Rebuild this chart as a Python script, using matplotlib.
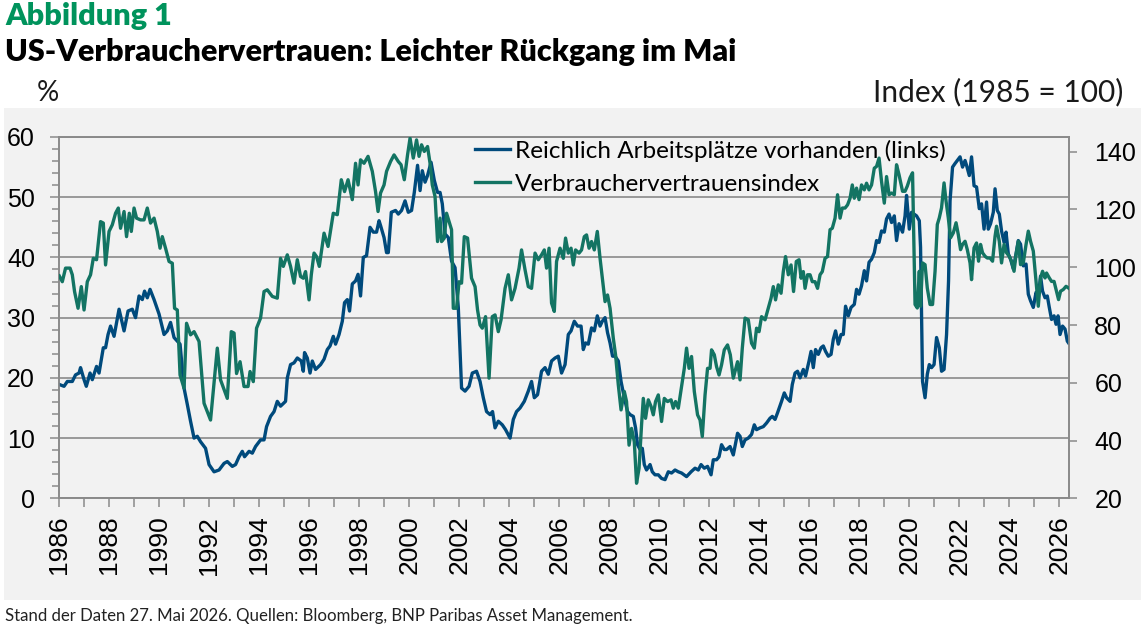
import matplotlib
matplotlib.use("Agg")
import matplotlib.pyplot as plt
from matplotlib.patches import Rectangle
from matplotlib.ticker import MultipleLocator, FixedLocator
import numpy as np

# ---------------- data ----------------
jobs_years = [
    1986.00, 1986.19, 1986.32, 1986.52, 1986.65, 1986.79, 1986.85, 1986.99, 1987.08, 1987.23,
    1987.32, 1987.49, 1987.59, 1987.76, 1987.85, 1987.95, 1988.05, 1988.19, 1988.39, 1988.59,
    1988.75, 1988.92, 1989.05, 1989.19, 1989.32, 1989.41, 1989.52, 1989.63, 1989.79, 1989.99,
    1990.19, 1990.32, 1990.45, 1990.59, 1990.83, 1990.99, 1991.12, 1991.25, 1991.39, 1991.52,
    1991.65, 1991.85, 1991.99, 1992.19, 1992.39, 1992.59, 1992.72, 1992.92, 1993.05, 1993.19,
    1993.32, 1993.41, 1993.59, 1993.72, 1993.85, 1994.05, 1994.19, 1994.29, 1994.45, 1994.59,
    1994.72, 1994.85, 1995.05, 1995.12, 1995.25, 1995.39, 1995.52, 1995.68, 1995.76, 1995.81,
    1995.92, 1996.03, 1996.12, 1996.25, 1996.45, 1996.59, 1996.72, 1996.83, 1996.96, 1997.05,
    1997.19, 1997.32, 1997.41, 1997.52, 1997.61, 1997.72, 1997.85, 1997.95, 1998.05, 1998.16,
    1998.29, 1998.43, 1998.56, 1998.69, 1998.79, 1998.85, 1998.99, 1999.09, 1999.16, 1999.28,
    1999.45, 1999.56, 1999.69, 1999.83, 1999.96, 2000.09, 2000.20, 2000.33, 2000.43, 2000.52,
    2000.63, 2000.73, 2000.87, 2001.00, 2001.13, 2001.23, 2001.32, 2001.43, 2001.56, 2001.69,
    2001.83, 2001.96, 2002.09, 2002.23, 2002.39, 2002.52, 2002.69, 2002.83, 2002.96, 2003.09,
    2003.23, 2003.33, 2003.43, 2003.56, 2003.72, 2003.85, 2004.03, 2004.16, 2004.29, 2004.43,
    2004.60, 2004.76, 2004.89, 2005.00, 2005.13, 2005.29, 2005.43, 2005.56, 2005.69, 2005.83,
    2005.96, 2006.09, 2006.23, 2006.36, 2006.47, 2006.60, 2006.73, 2006.87, 2006.96, 2007.05,
    2007.16, 2007.29, 2007.40, 2007.52, 2007.63, 2007.72, 2007.83, 2007.93, 2008.03, 2008.13,
    2008.23, 2008.36, 2008.47, 2008.60, 2008.73, 2008.83, 2008.96, 2009.05, 2009.13, 2009.23,
    2009.32, 2009.40, 2009.49, 2009.63, 2009.72, 2009.83, 2009.96, 2010.09, 2010.23, 2010.36,
    2010.49, 2010.63, 2010.76, 2010.89, 2011.09, 2011.27, 2011.43, 2011.56, 2011.67, 2011.80,
    2011.93, 2012.07, 2012.16, 2012.29, 2012.39, 2012.49, 2012.60, 2012.69, 2012.83, 2012.96,
    2013.13, 2013.23, 2013.32, 2013.43, 2013.56, 2013.69, 2013.80, 2013.89, 2014.03, 2014.16,
    2014.29, 2014.43, 2014.52, 2014.63, 2014.73, 2014.89, 2015.00, 2015.09, 2015.23, 2015.32,
    2015.43, 2015.53, 2015.63, 2015.76, 2015.85, 2015.99, 2016.07, 2016.16, 2016.25, 2016.36,
    2016.47, 2016.56, 2016.65, 2016.76, 2016.87, 2016.96, 2017.05, 2017.16, 2017.27, 2017.36,
    2017.45, 2017.56, 2017.67, 2017.80, 2017.89, 2017.99, 2018.09, 2018.20, 2018.29, 2018.39,
    2018.49, 2018.60, 2018.69, 2018.79, 2018.89, 2019.00, 2019.09, 2019.19, 2019.29, 2019.40,
    2019.49, 2019.59, 2019.73, 2019.83, 2019.89, 2020.00, 2020.09, 2020.19, 2020.29, 2020.40,
    2020.45, 2020.53, 2020.63, 2020.72, 2020.80, 2020.89, 2020.99, 2021.09, 2021.20, 2021.29,
    2021.39, 2021.49, 2021.57, 2021.63, 2021.73, 2021.83, 2021.92, 2022.03, 2022.13, 2022.23,
    2022.29, 2022.40, 2022.49, 2022.59, 2022.69, 2022.80, 2022.89, 2022.99, 2023.09, 2023.16,
    2023.25, 2023.36, 2023.43, 2023.52, 2023.60, 2023.69, 2023.79, 2023.87, 2023.96, 2024.05,
    2024.16, 2024.27, 2024.36, 2024.45, 2024.56, 2024.67, 2024.76, 2024.85, 2024.96, 2025.07,
    2025.16, 2025.25, 2025.33, 2025.43, 2025.52, 2025.60, 2025.69, 2025.79, 2025.87, 2025.95,
    2026.03, 2026.13, 2026.23, 2026.32, 2026.37,
]
jobs_plentiful = [
    18.9, 18.6, 19.4, 19.4, 20.5, 20.8, 21.7, 19.7, 18.6, 20.8,
    19.7, 21.9, 20.8, 25.0, 25.0, 27.2, 28.6, 26.9, 31.4, 27.8,
    31.1, 31.4, 30.0, 33.6, 33.0, 34.4, 33.3, 34.7, 33.0, 30.6,
    27.2, 27.8, 29.2, 26.7, 25.6, 18.3, 15.6, 12.8, 10.0, 10.3,
    9.4, 8.3, 5.6, 4.4, 4.7, 5.8, 6.1, 5.3, 5.6, 6.9,
    7.8, 6.9, 7.8, 7.5, 8.6, 9.7, 9.7, 11.9, 13.6, 14.4,
    16.1, 15.3, 16.1, 20.0, 22.2, 22.5, 23.3, 22.8, 21.1, 24.2,
    23.3, 20.8, 22.8, 21.4, 22.2, 23.1, 24.7, 25.3, 26.9, 25.6,
    27.2, 29.4, 32.5, 33.0, 31.1, 35.6, 36.1, 37.2, 33.6, 40.0,
    40.3, 45.0, 44.2, 44.2, 46.1, 45.3, 43.3, 40.8, 40.8, 47.5,
    47.8, 47.2, 47.8, 49.4, 47.5, 47.8, 50.8, 55.3, 51.1, 54.4,
    52.5, 53.6, 55.8, 52.8, 50.8, 50.8, 48.9, 43.9, 43.3, 39.4,
    38.3, 31.7, 18.3, 17.8, 18.6, 20.8, 21.1, 19.4, 16.7, 14.4,
    13.9, 14.4, 11.7, 12.8, 12.2, 11.4, 10.0, 13.1, 14.4, 15.0,
    16.1, 17.8, 19.4, 16.7, 17.2, 21.1, 21.7, 20.6, 22.8, 23.3,
    23.6, 20.8, 22.2, 27.2, 27.8, 29.4, 28.6, 28.6, 24.7, 25.8,
    25.6, 28.3, 27.8, 30.3, 28.6, 29.4, 30.0, 27.5, 25.8, 23.6,
    23.6, 22.8, 19.4, 16.7, 14.4, 13.9, 13.6, 11.7, 8.9, 8.1,
    8.3, 5.6, 4.7, 5.6, 4.4, 3.9, 3.9, 3.3, 3.1, 4.4,
    4.2, 4.7, 4.4, 4.2, 3.6, 4.4, 5.0, 4.7, 5.6, 5.0,
    5.3, 3.9, 6.4, 6.4, 6.9, 8.9, 8.1, 8.1, 8.6, 7.2,
    10.8, 10.3, 8.6, 9.7, 10.0, 10.6, 12.2, 11.4, 11.7, 11.9,
    12.5, 13.3, 13.6, 13.1, 14.2, 16.1, 17.5, 16.7, 16.1, 18.9,
    20.8, 21.1, 20.0, 21.4, 20.3, 22.8, 24.4, 21.7, 24.7, 23.9,
    25.0, 25.3, 24.4, 23.6, 23.9, 26.4, 27.8, 25.6, 27.2, 27.2,
    31.9, 30.3, 31.7, 32.2, 34.7, 33.9, 35.3, 37.8, 36.1, 39.2,
    39.7, 40.8, 42.8, 42.5, 44.4, 44.2, 46.4, 47.2, 45.8, 46.9,
    42.8, 45.6, 44.2, 46.9, 50.3, 44.7, 47.5, 47.2, 46.9, 46.1,
    41.7, 19.4, 16.7, 20.6, 22.2, 21.7, 22.2, 26.7, 25.0, 21.1,
    21.4, 27.2, 36.1, 49.4, 55.0, 55.6, 56.1, 56.7, 55.0, 56.1,
    55.3, 53.6, 56.7, 51.9, 51.7, 48.1, 48.9, 44.7, 49.2, 44.7,
    45.6, 47.5, 51.4, 47.8, 47.2, 44.4, 42.5, 44.2, 40.6, 39.7,
    38.1, 40.6, 42.8, 42.2, 38.6, 38.9, 33.9, 32.8, 31.7, 34.2,
    33.3, 36.9, 34.4, 33.3, 33.6, 31.7, 29.7, 30.3, 28.9, 30.3,
    27.2, 28.6, 28.1, 26.1, 25.8,
]

conf_years = [
    1986.00, 1986.12, 1986.25, 1986.43, 1986.52, 1986.61, 1986.75, 1986.88, 1986.99, 1987.12,
    1987.25, 1987.36, 1987.49, 1987.65, 1987.76, 1987.85, 1987.99, 1988.12, 1988.25, 1988.36,
    1988.45, 1988.59, 1988.69, 1988.80, 1988.88, 1988.99, 1989.09, 1989.25, 1989.39, 1989.52,
    1989.65, 1989.79, 1989.92, 1990.03, 1990.12, 1990.25, 1990.39, 1990.52, 1990.61, 1990.72,
    1990.83, 1990.99, 1991.09, 1991.25, 1991.39, 1991.59, 1991.79, 1992.05, 1992.32, 1992.45,
    1992.72, 1992.88, 1992.99, 1993.09, 1993.23, 1993.39, 1993.55, 1993.63, 1993.76, 1993.89,
    1994.05, 1994.19, 1994.32, 1994.52, 1994.72, 1994.85, 1994.96, 1995.12, 1995.25, 1995.39,
    1995.52, 1995.65, 1995.76, 1995.85, 1995.99, 1996.08, 1996.19, 1996.29, 1996.40, 1996.59,
    1996.75, 1996.96, 1997.12, 1997.28, 1997.41, 1997.55, 1997.72, 1997.85, 1997.95, 1998.05,
    1998.19, 1998.35, 1998.52, 1998.65, 1998.75, 1998.85, 1998.99, 1999.09, 1999.25, 1999.39,
    1999.56, 1999.67, 1999.80, 1999.93, 2000.03, 2000.16, 2000.29, 2000.39, 2000.49, 2000.60,
    2000.73, 2000.83, 2000.92, 2001.03, 2001.13, 2001.23, 2001.29, 2001.40, 2001.49, 2001.59,
    2001.69, 2001.76, 2001.89, 2001.99, 2002.09, 2002.20, 2002.33, 2002.49, 2002.63, 2002.73,
    2002.83, 2002.92, 2003.05, 2003.19, 2003.32, 2003.43, 2003.56, 2003.67, 2003.83, 2003.96,
    2004.09, 2004.23, 2004.39, 2004.49, 2004.63, 2004.76, 2004.89, 2005.03, 2005.16, 2005.29,
    2005.40, 2005.49, 2005.59, 2005.69, 2005.80, 2005.89, 2006.03, 2006.16, 2006.25, 2006.36,
    2006.47, 2006.56, 2006.65, 2006.79, 2006.89, 2007.00, 2007.09, 2007.19, 2007.29, 2007.40,
    2007.52, 2007.63, 2007.72, 2007.83, 2007.93, 2008.03, 2008.16, 2008.25, 2008.36, 2008.47,
    2008.60, 2008.69, 2008.79, 2008.89, 2009.00, 2009.09, 2009.19, 2009.29, 2009.36, 2009.45,
    2009.56, 2009.67, 2009.76, 2009.85, 2009.96, 2010.09, 2010.20, 2010.33, 2010.47, 2010.56,
    2010.65, 2010.76, 2010.89, 2011.00, 2011.09, 2011.19, 2011.29, 2011.40, 2011.53, 2011.63,
    2011.72, 2011.83, 2011.93, 2012.03, 2012.09, 2012.20, 2012.29, 2012.39, 2012.49, 2012.60,
    2012.73, 2012.84, 2012.96, 2013.13, 2013.23, 2013.32, 2013.43, 2013.56, 2013.69, 2013.80,
    2013.89, 2013.99, 2014.09, 2014.23, 2014.36, 2014.47, 2014.56, 2014.65, 2014.76, 2014.87,
    2014.96, 2015.05, 2015.16, 2015.27, 2015.37, 2015.48, 2015.59, 2015.67, 2015.76, 2015.83,
    2015.93, 2016.03, 2016.12, 2016.23, 2016.33, 2016.43, 2016.52, 2016.63, 2016.73, 2016.83,
    2016.92, 2017.03, 2017.13, 2017.23, 2017.32, 2017.43, 2017.53, 2017.63, 2017.72, 2017.80,
    2017.89, 2017.99, 2018.09, 2018.20, 2018.29, 2018.39, 2018.49, 2018.60, 2018.69, 2018.79,
    2018.89, 2019.00, 2019.09, 2019.19, 2019.29, 2019.40, 2019.49, 2019.59, 2019.73, 2019.83,
    2019.92, 2020.03, 2020.13, 2020.23, 2020.32, 2020.40, 2020.45, 2020.53, 2020.63, 2020.72,
    2020.83, 2020.93, 2021.03, 2021.12, 2021.20, 2021.29, 2021.39, 2021.47, 2021.56, 2021.65,
    2021.76, 2021.87, 2021.96, 2022.05, 2022.13, 2022.23, 2022.32, 2022.43, 2022.49, 2022.59,
    2022.69, 2022.77, 2022.85, 2022.93, 2023.03, 2023.12, 2023.23, 2023.33, 2023.43, 2023.49,
    2023.60, 2023.69, 2023.79, 2023.89, 2024.00, 2024.09, 2024.19, 2024.27, 2024.36, 2024.45,
    2024.56, 2024.67, 2024.76, 2024.85, 2024.96, 2025.07, 2025.16, 2025.25, 2025.33, 2025.43,
    2025.49, 2025.60, 2025.69, 2025.79, 2025.87, 2025.97, 2026.05, 2026.16, 2026.27, 2026.37,
]
confidence_index = [
    97.0, 95.0, 99.7, 99.7, 97.4, 91.6, 85.8, 93.3, 85.2, 95.0,
    97.4, 103.1, 102.6, 115.8, 115.3, 100.8, 112.4, 114.7, 118.7, 120.5,
    113.5, 119.3, 110.6, 118.7, 112.4, 120.5, 117.0, 116.4, 116.4, 120.5,
    115.3, 117.0, 112.4, 106.6, 110.6, 106.6, 102.0, 101.4, 85.8, 85.2,
    62.7, 58.1, 80.6, 76.6, 77.7, 74.3, 52.9, 47.1, 72.0, 61.0,
    54.6, 77.7, 77.2, 63.2, 67.3, 58.7, 58.7, 63.9, 60.4, 78.9,
    82.4, 91.6, 92.2, 89.9, 89.3, 103.1, 100.3, 104.3, 100.3, 94.5,
    102.6, 96.8, 96.2, 98.5, 88.7, 97.4, 104.9, 103.7, 100.3, 111.8,
    107.2, 118.7, 118.2, 130.3, 126.2, 130.3, 123.4, 136.0, 128.5, 137.2,
    136.0, 138.4, 133.2, 126.2, 119.3, 125.7, 128.5, 133.2, 136.6, 138.9,
    136.6, 135.5, 130.3, 138.9, 144.7, 137.8, 144.1, 138.4, 142.4, 140.1,
    141.8, 136.0, 128.5, 124.5, 108.9, 117.0, 108.9, 110.1, 118.7, 115.8,
    113.0, 85.8, 85.8, 95.0, 94.5, 110.6, 110.1, 96.2, 93.3, 85.2,
    80.0, 78.9, 82.9, 61.6, 82.9, 83.5, 77.7, 81.8, 92.7, 97.4,
    88.7, 92.7, 99.7, 106.0, 99.1, 93.3, 92.7, 104.9, 102.6, 104.3,
    106.0, 99.7, 106.6, 87.6, 84.7, 102.0, 106.6, 103.1, 110.1, 104.9,
    106.6, 100.8, 106.0, 104.9, 106.0, 110.6, 111.2, 106.6, 108.9, 106.0,
    112.4, 103.1, 96.2, 88.1, 90.4, 85.8, 75.4, 69.7, 59.3, 50.6,
    57.0, 53.5, 38.4, 44.2, 39.6, 25.2, 30.4, 45.4, 54.6, 47.7,
    54.1, 51.8, 48.9, 53.5, 55.8, 46.6, 54.6, 53.5, 54.1, 51.2,
    53.5, 51.2, 58.7, 65.0, 72.0, 65.0, 69.1, 57.0, 48.9, 47.1,
    41.4, 55.8, 65.0, 65.0, 71.4, 69.7, 65.6, 62.7, 66.2, 71.4,
    73.1, 69.7, 61.6, 67.3, 61.0, 72.0, 82.4, 81.8, 73.7, 72.0,
    78.9, 77.7, 82.9, 81.8, 85.8, 89.3, 93.3, 88.7, 93.9, 91.0,
    98.5, 103.7, 97.4, 100.8, 91.6, 102.0, 102.6, 96.2, 98.5, 92.7,
    97.4, 97.4, 95.0, 95.0, 92.7, 97.4, 98.5, 103.1, 103.7, 113.0,
    113.5, 117.0, 125.1, 117.0, 120.5, 120.5, 121.6, 123.9, 128.5, 123.9,
    127.4, 123.4, 128.5, 126.8, 129.1, 126.8, 128.5, 134.3, 134.9, 137.8,
    129.7, 122.2, 131.4, 125.1, 125.7, 125.1, 135.5, 132.0, 126.3, 126.3,
    128.1, 131.0, 132.7, 87.1, 85.9, 98.6, 86.5, 101.5, 100.9, 92.8,
    87.1, 87.1, 98.6, 114.8, 117.1, 120.6, 129.2, 122.9, 117.1, 110.2,
    111.9, 115.4, 111.3, 106.1, 107.9, 109.0, 106.1, 101.5, 95.7, 106.7,
    108.4, 102.1, 107.9, 105.0, 103.8, 103.2, 103.2, 102.1, 110.7, 114.2,
    109.0, 101.5, 107.9, 105.0, 103.8, 102.1, 98.6, 104.4, 109.0, 100.9,
    101.5, 107.9, 112.5, 109.0, 105.6, 95.1, 86.5, 96.3, 98.6, 96.3,
    98.0, 96.3, 95.1, 95.1, 92.3, 88.8, 91.7, 92.3, 93.4, 92.8,
]

series_labels = ["Reichlich Arbeitsplätze vorhanden (links)", "Verbrauchervertrauensindex"]
x_tick_years = list(range(1986, 2027, 2))
left_ticks = [0, 10, 20, 30, 40, 50, 60]
right_ticks = [20, 40, 60, 80, 100, 120, 140]

# ---------------- styling ----------------
BLUE = "#004A7C"
GREEN = "#137463"
TITLE_GREEN = "#00935C"
GRID = "#8a8a8a"
PANEL = "#f2f2f2"
SANS2 = ["Lato", "DejaVu Sans"]

plt.rcParams["font.family"] = ["Liberation Sans", "DejaVu Sans"]

W, H = 1141, 630
fig = plt.figure(figsize=(W / 100, H / 100), dpi=100)
fig.patch.set_facecolor("white")

# grey panel behind the chart
fig.patches.append(Rectangle((4 / W, (H - 600) / H), (W - 4) / W, (600 - 108) / H,
                             transform=fig.transFigure, facecolor=PANEL,
                             edgecolor="none", zorder=-5))

x0, x1 = 59.3, 1069.3
y_top, y_bot = 137.0, 498.3
ax = fig.add_axes([x0 / W, (H - y_bot) / H, (x1 - x0) / W, (y_bot - y_top) / H])
ax.set_facecolor(PANEL)
ax2 = ax.twinx()
ax2.patch.set_visible(False)

l1, = ax.plot(jobs_years, jobs_plentiful, color=BLUE, lw=2.4, solid_joinstyle="round",
              label=series_labels[0], zorder=3)
l2, = ax2.plot(conf_years, confidence_index, color=GREEN, lw=2.4, solid_joinstyle="round",
               label=series_labels[1], zorder=3)

ax.set_xlim(1986.0, 2026.4)
ax.set_ylim(0, 60)
ax2.set_ylim(20, 145.1)

ax.xaxis.set_major_locator(FixedLocator(x_tick_years))
ax.xaxis.set_minor_locator(MultipleLocator(1))
ax.yaxis.set_major_locator(FixedLocator(left_ticks))
ax.yaxis.set_minor_locator(MultipleLocator(2))
ax2.yaxis.set_major_locator(FixedLocator(right_ticks))

ax.set_xticklabels([str(y) for y in x_tick_years], rotation=90)
ax.grid(axis="y", which="major", color=GRID, lw=1.2, zorder=1)
ax.set_axisbelow(True)

for a in (ax, ax2):
    for s in a.spines.values():
        s.set_color(GRID)
        s.set_linewidth(1.2)

ax.tick_params(axis="x", which="both", direction="out", length=6.5, width=1.1,
               color=GRID, labelsize=19, pad=6)
ax.tick_params(axis="y", which="major", direction="out", length=6.5, width=1.1,
               color=GRID, labelsize=18, pad=11)
ax.tick_params(axis="y", which="minor", direction="out", length=5, width=1.1, color=GRID)
ax2.tick_params(axis="y", which="major", direction="out", length=6, width=1.1,
                color=GRID, labelsize=18, pad=12)

leg = ax2.legend(handles=[l1, l2], loc="upper left", bbox_to_anchor=(0.4116, 0.993),
                 frameon=False, prop={"family": SANS2, "size": 17.5},
                 handlelength=1.45, handletextpad=0.2, labelspacing=0.5,
                 borderpad=0.0, borderaxespad=0.0)

# titles and labels
fig.text(5 / W, 1 - 2 / H, "Abbildung 1", color=TITLE_GREEN, fontsize=22,
         fontweight="heavy", family=SANS2, va="top", ha="left")
fig.text(5 / W, 1 - 38 / H, "US-Verbrauchervertrauen: Leichter Rückgang im Mai", color="black",
         fontsize=22, fontweight="heavy", family=SANS2, va="top", ha="left")
fig.text(48 / W, 1 - 101 / H, "%", fontsize=20, color="#1a1a1a",
         family=SANS2, va="baseline", ha="center")
fig.text(1123 / W, 1 - 101 / H, "Index (1985 = 100)", fontsize=21.5, color="#1a1a1a",
         family=SANS2, va="baseline", ha="right")
fig.text(5 / W, 1 - 621 / H,
         "Stand der Daten 27. Mai 2026. Quellen: Bloomberg, BNP Paribas Asset Management.",
         fontsize=12.1, color="#222222", family=SANS2, va="baseline", ha="left")

fig.savefig("out.png", dpi=100)
